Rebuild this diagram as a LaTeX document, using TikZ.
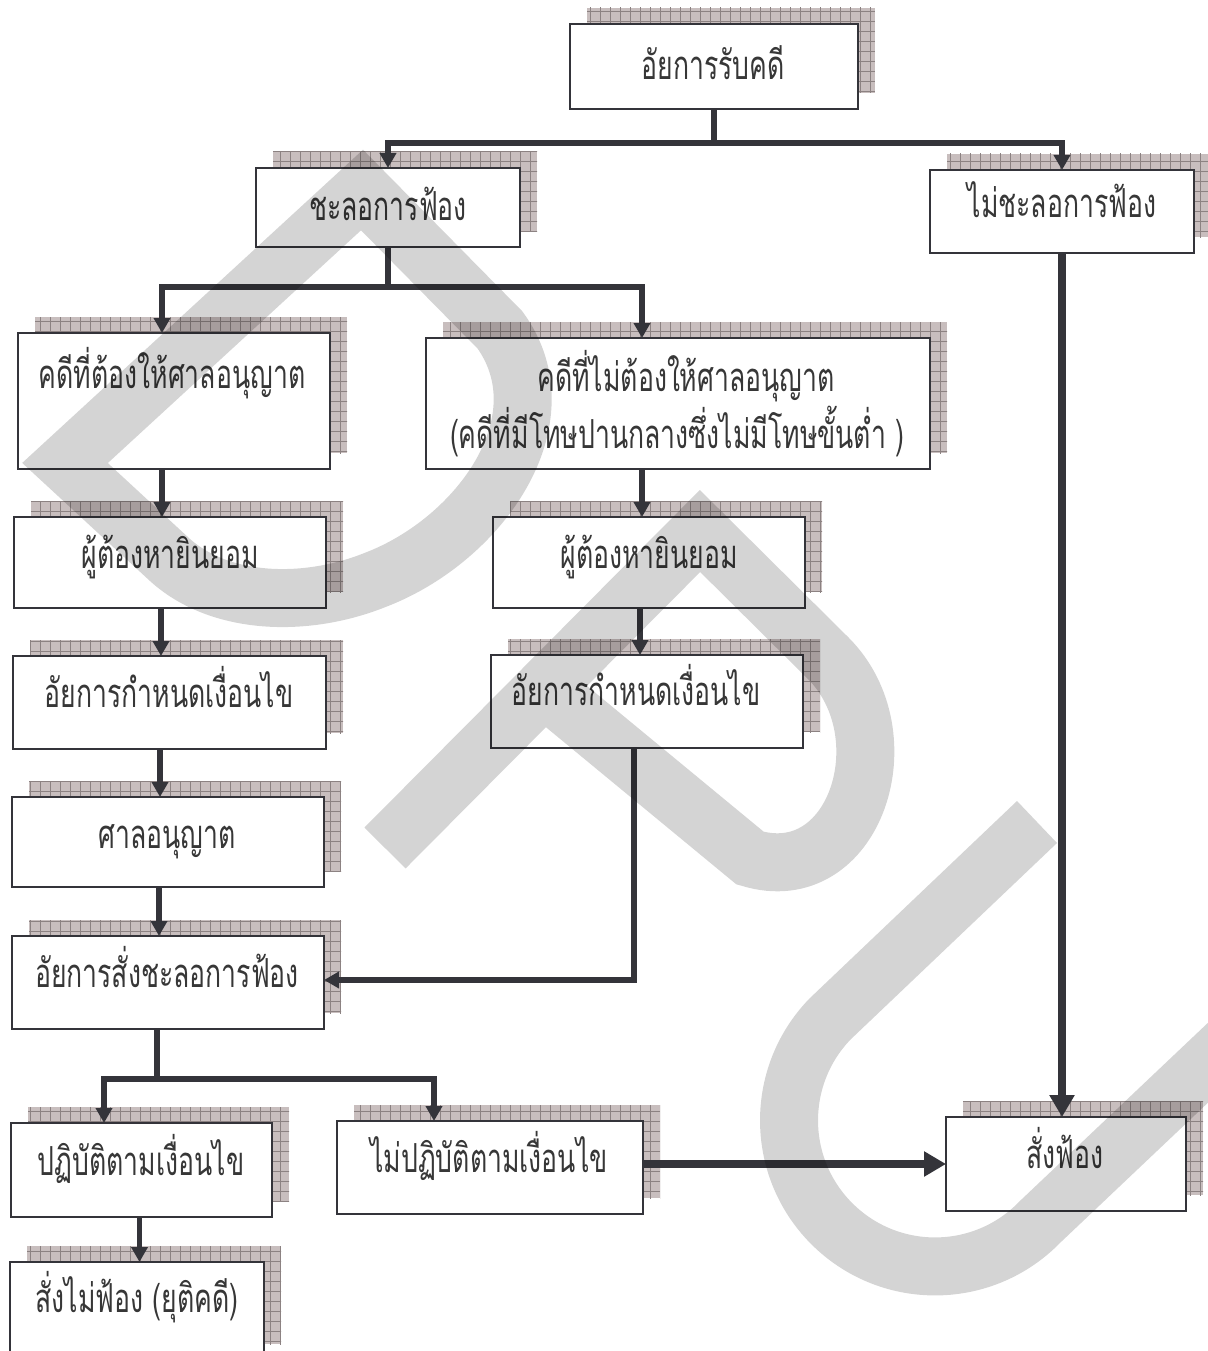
\documentclass[tikz,border=0pt]{standalone}
\usepackage{fontspec}
\newfontfamily\thaifont[Script=Thai,FakeStretch=0.665]{Loma}
\usetikzlibrary{arrows.meta,shadows,patterns.meta}
\definecolor{ink}{RGB}{52,52,58}
\definecolor{txtc}{RGB}{55,55,55}
\definecolor{shbg}{RGB}{200,190,190}
\definecolor{shline}{RGB}{140,130,130}
\tikzset{
  box/.style={draw=ink, line width=2pt, fill=white, inner sep=0pt, outer sep=0pt,
    general shadow={shadow xshift=17pt, shadow yshift=16pt, fill=shbg,
      postaction={pattern={Hatch[distance=10pt,line width=0.6pt]}, pattern color=shline}}},
  txt/.style={anchor=base, inner sep=0pt, text=txtc, font=\thaifont\fontsize{40pt}{48pt}\selectfont},
  conn/.style={draw=ink, line width=5.5pt},
  hconn/.style={conn, line cap=rect},
  arr/.style={conn, -{Triangle[length=15pt,width=16pt]}},
  bigarr/.style={draw=ink, line width=7.5pt, -{Triangle[length=22pt,width=24pt]}},
  wm/.style={draw=black, draw opacity=0.17, line width=58pt, line cap=butt, line join=miter},
}
\begin{document}
\begin{tikzpicture}[x=1pt,y=-1pt]
\useasboundingbox (0,0) rectangle (1207,1351);

% boxes
\node[box, minimum width=288pt, minimum height=85pt] (n1) at (714,66.5) {};
\node[box, minimum width=264pt, minimum height=79pt] (n2) at (388,207.5) {};
\node[box, minimum width=264pt, minimum height=83pt] (n3) at (1062,211.5) {};
\node[box, minimum width=312pt, minimum height=136pt] (n4) at (174,401) {};
\node[box, minimum width=504pt, minimum height=131pt] (n5) at (678,403.5) {};
\node[box, minimum width=312pt, minimum height=91pt] (n6) at (170,562.5) {};
\node[box, minimum width=312pt, minimum height=91pt] (n7) at (649,562.5) {};
\node[box, minimum width=313pt, minimum height=93pt] (n8) at (169.5,702.5) {};
\node[box, minimum width=312pt, minimum height=93pt] (n9) at (647,701.5) {};
\node[box, minimum width=312pt, minimum height=90pt] (n10) at (168,842) {};
\node[box, minimum width=312pt, minimum height=93pt] (n11) at (168,982.5) {};
\node[box, minimum width=261pt, minimum height=94pt] (n13) at (141.5,1170) {};
\node[box, minimum width=306pt, minimum height=93pt] (n14) at (490,1167.5) {};
\node[box, minimum width=240pt, minimum height=94pt] (n15) at (1066,1164) {};
\node[box, minimum width=254pt, minimum height=98pt] (n16) at (137,1311) {};

% texts
\node[txt] (t1) at (713,80) {อัยการรับคดี};
\node[txt] (t2) at (388,220) {ชะลอการฟ้อง};
\node[txt] (t3) at (1062,217) {ไม่ชะลอการฟ้อง};
\node[txt] (t4) at (172,388) {คดีที่ต้องให้ศาลอนุญาต};
\node[txt] (t5a) at (686,391) {คดีที่ไม่ต้องให้ศาลอนุญาต};
\node[txt] (t5b) at (677,448) {(คดีที่มีโทษปานกลางซึ่งไม่มีโทษขั้นต่ำ )};
\node[txt] (t6) at (170,568) {ผู้ต้องหายินยอม};
\node[txt] (t7) at (649,568) {ผู้ต้องหายินยอม};
\node[txt] (t8) at (169,707) {อัยการกำหนดเงื่อนไข};
\node[txt] (t9) at (636,705) {อัยการกำหนดเงื่อนไข};
\node[txt] (t10) at (167,848) {ศาลอนุญาต};
\node[txt] (t11) at (167,987) {อัยการสั่งชะลอการฟ้อง};
\node[txt] (t13) at (141,1175) {ปฏิบัติตามเงื่อนไข};
\node[txt] (t14) at (489,1172) {ไม่ปฏิบัติตามเงื่อนไข};
\node[txt] (t15) at (1065,1168) {สั่งฟ้อง};
\node[txt] (t16) at (137,1312) {สั่งไม่ฟ้อง (ยุติคดี)};

% junction coordinates
\coordinate (j1) at (714,143);
\coordinate (j2) at (388,287);
\coordinate (j2l) at (162,287);
\coordinate (j2r) at (642,287);
\coordinate (j3) at (157,1079);
\coordinate (j3l) at (104,1079);
\coordinate (j3r) at (434,1079);

% connectors
\draw[conn] (n1.south) -- (j1);
\draw[hconn] (j1 -| n2.north) -- (j1 -| n3.north);
\draw[arr] (j1 -| n2.north) -- (n2.north);
\draw[arr] (j1 -| n3.north) -- (n3.north);

\draw[conn] (n2.south) -- (j2);
\draw[hconn] (j2l) -- (j2r);
\draw[arr] (j2l) -- (j2l |- n4.north);
\draw[arr] (j2r) -- (j2r |- n5.north);

\draw[arr] ([xshift=-12pt]n4.south) -- ([xshift=-12pt]n4.south |- n6.north);
\draw[arr] ([xshift=-9pt]n6.south) -- ([xshift=-9pt]n6.south |- n8.north);
\draw[arr] ([xshift=-9.5pt]n8.south) -- ([xshift=-9.5pt]n8.south |- n10.north);
\draw[arr] ([xshift=-9pt]n10.south) -- ([xshift=-9pt]n10.south |- n11.north);
\draw[arr] ([xshift=-36pt]n5.south) -- ([xshift=-36pt]n5.south |- n7.north);
\draw[arr] ([xshift=-9pt]n7.south) -- ([xshift=-9pt]n7.south |- n9.north);
\draw[arr] ([xshift=-13pt]n9.south) |- ([yshift=2.5pt]n11.east);

\draw[conn] ([xshift=-11pt]n11.south) -- (j3);
\draw[hconn] (j3l) -- (j3r);
\draw[arr] (j3l) -- (j3l |- n13.north);
\draw[arr] (j3r) -- (j3r |- n14.north);
\draw[arr] ([xshift=-2pt]n13.south) -- ([xshift=-2pt]n13.south |- n16.north);

\draw[bigarr] (n14.east |- n15.west) -- (n15.west);
\draw[bigarr] (n3.south) -- (n3.south |- n15.north);

% watermark
\draw[wm] (362,190) -- (65,463) -- (170,560) .. controls (220,605) and (305,608) .. (375,580)
  .. controls (480,540) and (565,420) .. (500,330) -- cycle;
\draw[wm] (385,848) -- (700,531) -- (828,658) .. controls (905,735) and (855,890) .. (750,858) -- (544,688);
\draw[wm] (1037,822) -- (830,1019) arc[start angle=136, end angle=316, radius=146pt] -- (1290,985);
\end{tikzpicture}
\end{document}
